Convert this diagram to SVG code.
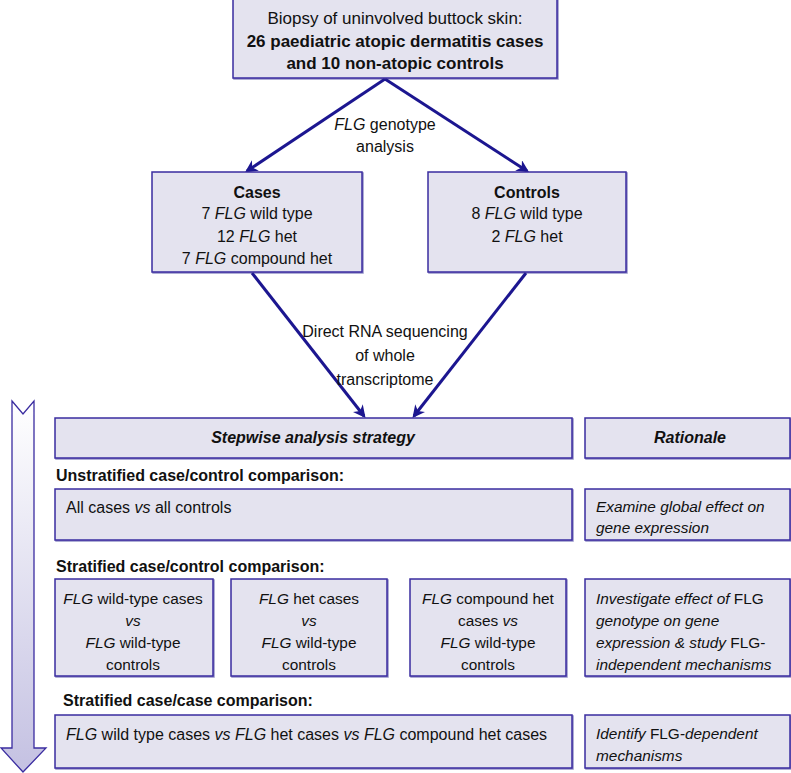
<svg xmlns="http://www.w3.org/2000/svg" width="791" height="773" viewBox="0 0 791 773">
<defs>
<style>
text{font-family:"Liberation Sans",Arial,sans-serif;font-size:16px;fill:#111;}
.c{text-anchor:middle;}
.b{font-weight:bold;}
.i{font-style:italic;}
.s{font-size:15.4px;}
.t{font-size:17px;}
.box{fill:#e4e3ef;stroke:#3a2ca0;stroke-width:1.5;filter:url(#sh);}
.con{stroke:#1c1690;stroke-width:3;fill:none;marker-end:url(#ah);}
</style>
<filter id="sh" x="-5%" y="-5%" width="110%" height="115%">
<feDropShadow dx="1" dy="1" stdDeviation="0.4" flood-color="#2a1c90" flood-opacity="0.5"/>
</filter>
<marker id="ah" viewBox="0 0 10 10" refX="8" refY="5" markerWidth="4.2" markerHeight="4.2" orient="auto" markerUnits="strokeWidth">
<path d="M0,0 L10,5 L0,10 L3,5 z" fill="#1c1690"/>
</marker>
<linearGradient id="g" x1="0" y1="0" x2="0" y2="1">
<stop offset="0" stop-color="#ffffff"/>
<stop offset="1" stop-color="#c4c1e2"/>
</linearGradient>
</defs>

<g id="bigarrow">
<path d="M12,401 L23,414 L34,401 L34,748 L46,748 L23,772 L1,748 L12,748 Z" fill="url(#g)" stroke="#3a2ca0" stroke-width="1.3"/>
</g>

<g id="connectors">
<path class="con" d="M385,79 L247,171"/>
<path class="con" d="M385,79 L527,171"/>
<path class="con" d="M252,273 L364,416"/>
<path class="con" d="M526,273 L414,416"/>
</g>

<g id="labels">
<text class="c" x="385" y="130"><tspan class="i">FLG</tspan> genotype</text>
<text class="c" x="385" y="152">analysis</text>
<text class="c" x="385" y="337">Direct RNA sequencing</text>
<text class="c" x="385" y="361">of whole</text>
<text class="c" x="385" y="385">transcriptome</text>
</g>

<g id="biopsy">
<rect class="box" x="233" y="-1" width="324" height="79"/>
<text class="c t" x="395" y="24">Biopsy of uninvolved buttock skin:</text>
<text class="c b t" x="395" y="47">26 paediatric atopic dermatitis cases</text>
<text class="c b t" x="395" y="69">and 10 non-atopic controls</text>
</g>

<g id="cases">
<rect class="box" x="152" y="172" width="210" height="100"/>
<text class="c b" x="257" y="198">Cases</text>
<text class="c" x="257" y="219">7 <tspan class="i">FLG</tspan> wild type</text>
<text class="c" x="257" y="242">12 <tspan class="i">FLG</tspan> het</text>
<text class="c" x="257" y="264">7 <tspan class="i">FLG</tspan> compound het</text>
</g>

<g id="controls">
<rect class="box" x="428" y="172" width="198" height="100"/>
<text class="c b" x="527" y="198">Controls</text>
<text class="c" x="527" y="219">8 <tspan class="i">FLG</tspan> wild type</text>
<text class="c" x="527" y="242">2 <tspan class="i">FLG</tspan> het</text>
</g>

<g id="strategy">
<rect class="box" x="55" y="418" width="517" height="40"/>
<text class="c b i" x="313" y="443">Stepwise analysis strategy</text>
</g>

<g id="rationale">
<rect class="box" x="585" y="418" width="205" height="40"/>
<text class="c b i" x="690" y="443">Rationale</text>
</g>

<g id="heading1">
<text class="b" x="56" y="481">Unstratified case/control comparison:</text>
</g>

<g id="allcases">
<rect class="box" x="55" y="489" width="517" height="51"/>
<text x="66" y="513">All cases <tspan class="i">vs</tspan> all controls</text>
</g>

<g id="rat1">
<rect class="box" x="585" y="489" width="205" height="51"/>
<text class="i s" x="596" y="512">Examine global effect on</text>
<text class="i s" x="596" y="533">gene expression</text>
</g>

<g id="heading2">
<text class="b" x="56" y="572">Stratified case/control comparison:</text>
</g>

<g id="wt">
<rect class="box" x="55" y="579" width="158" height="97"/>
<text class="c s" x="133" y="604"><tspan class="i">FLG</tspan> wild-type cases</text>
<text class="c i s" x="133" y="626">vs</text>
<text class="c s" x="133" y="648"><tspan class="i">FLG</tspan> wild-type</text>
<text class="c s" x="133" y="670">controls</text>
</g>

<g id="het">
<rect class="box" x="231" y="579" width="156" height="97"/>
<text class="c s" x="309" y="604"><tspan class="i">FLG</tspan> het cases</text>
<text class="c i s" x="309" y="626">vs</text>
<text class="c s" x="309" y="648"><tspan class="i">FLG</tspan> wild-type</text>
<text class="c s" x="309" y="670">controls</text>
</g>

<g id="comp">
<rect class="box" x="410" y="579" width="156" height="97"/>
<text class="c s" x="488" y="604"><tspan class="i">FLG</tspan> compound het</text>
<text class="c s" x="488" y="626">cases <tspan class="i">vs</tspan></text>
<text class="c s" x="488" y="648"><tspan class="i">FLG</tspan> wild-type</text>
<text class="c s" x="488" y="670">controls</text>
</g>

<g id="rat2">
<rect class="box" x="585" y="579" width="205" height="97"/>
<text class="i s" x="596" y="604">Investigate effect of <tspan font-style="normal">FLG</tspan></text>
<text class="i s" x="596" y="626">genotype on gene</text>
<text class="i s" x="596" y="648">expression &amp; study <tspan font-style="normal">FLG-</tspan></text>
<text class="i s" x="596" y="670">independent mechanisms</text>
</g>

<g id="heading3">
<text class="b" x="63" y="706">Stratified case/case comparison:</text>
</g>

<g id="casecase">
<rect class="box" x="55" y="715" width="517" height="53"/>
<text x="66" y="740"><tspan class="i">FLG</tspan> wild type cases <tspan class="i">vs FLG</tspan> het cases <tspan class="i">vs FLG</tspan> compound het cases</text>
</g>

<g id="rat3">
<rect class="box" x="585" y="715" width="205" height="53"/>
<text class="i s" x="596" y="739">Identify <tspan font-style="normal">FLG</tspan>-dependent</text>
<text class="i s" x="596" y="761">mechanisms</text>
</g>
</svg>
